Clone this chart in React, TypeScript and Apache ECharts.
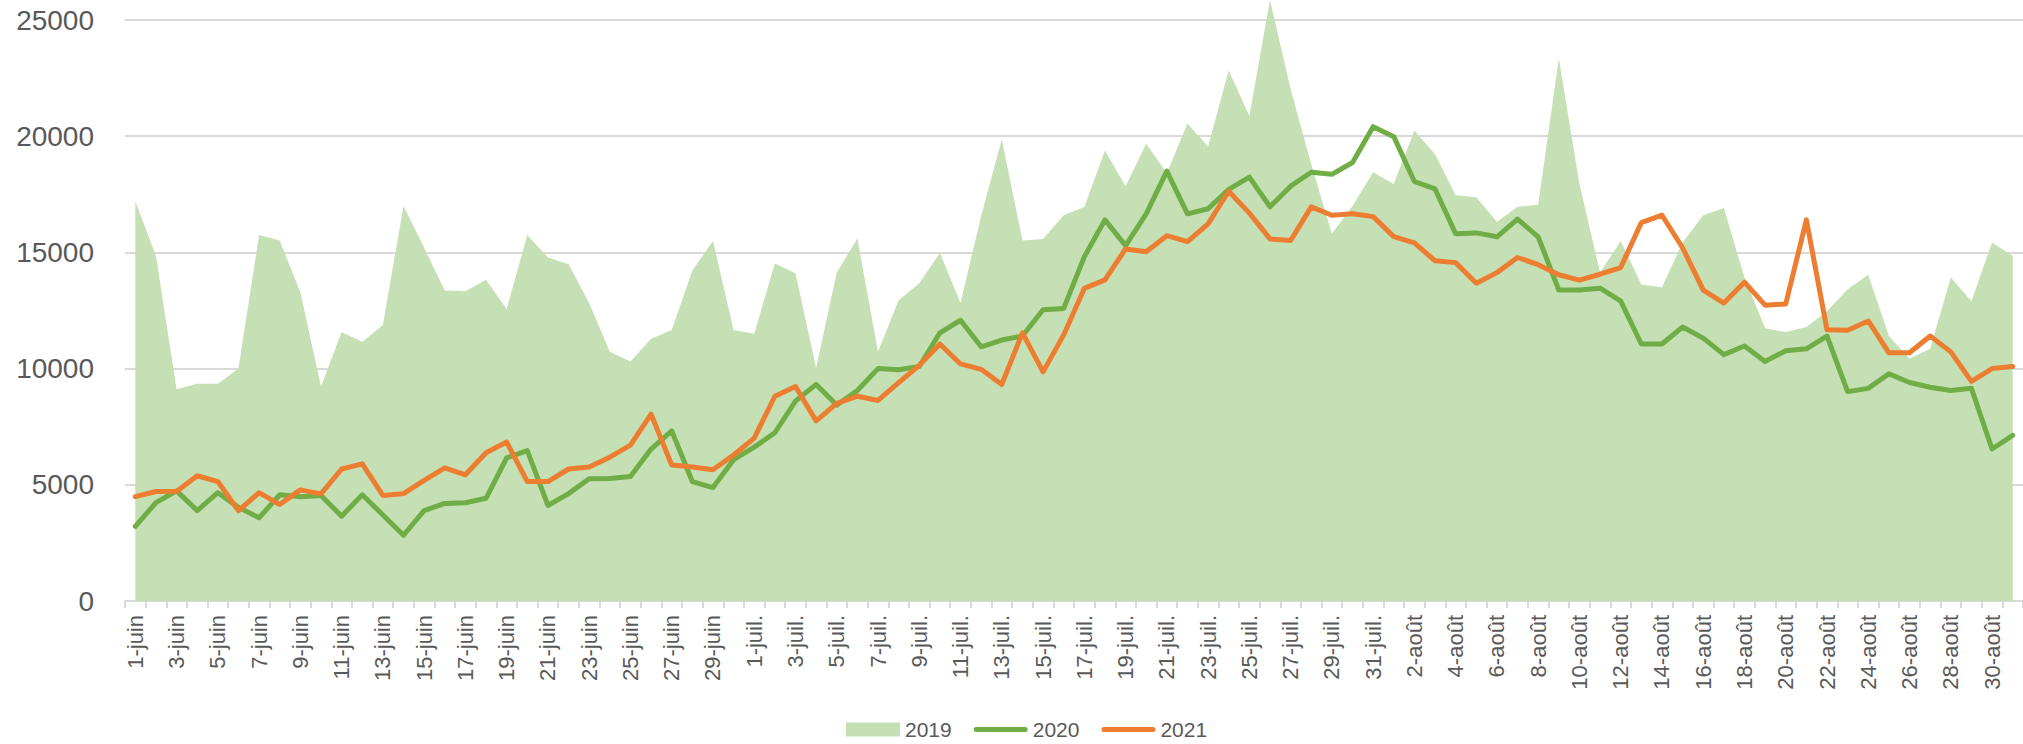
import React, { useEffect, useRef } from "react";
import * as echarts from "echarts";

const categories: string[] = [
  "1-juin","2-juin","3-juin","4-juin","5-juin","6-juin","7-juin","8-juin","9-juin","10-juin",
  "11-juin","12-juin","13-juin","14-juin","15-juin","16-juin","17-juin","18-juin","19-juin","20-juin",
  "21-juin","22-juin","23-juin","24-juin","25-juin","26-juin","27-juin","28-juin","29-juin","30-juin",
  "1-juil.","2-juil.","3-juil.","4-juil.","5-juil.","6-juil.","7-juil.","8-juil.","9-juil.","10-juil.",
  "11-juil.","12-juil.","13-juil.","14-juil.","15-juil.","16-juil.","17-juil.","18-juil.","19-juil.","20-juil.",
  "21-juil.","22-juil.","23-juil.","24-juil.","25-juil.","26-juil.","27-juil.","28-juil.","29-juil.","30-juil.",
  "31-juil.","1-août","2-août","3-août","4-août","5-août","6-août","7-août","8-août","9-août",
  "10-août","11-août","12-août","13-août","14-août","15-août","16-août","17-août","18-août","19-août",
  "20-août","21-août","22-août","23-août","24-août","25-août","26-août","27-août","28-août","29-août",
  "30-août","31-août"
];

const values2019: number[] = [
  17200,14860,9110,9350,9350,10000,15750,15510,13280,9230,
  11570,11160,11880,17000,15200,13360,13330,13820,12560,15750,
  14780,14490,12820,10730,10310,11280,11660,14220,15490,11660,
  11500,14520,14100,10030,14130,15600,10720,12940,13670,14980,
  12820,16570,19860,15510,15580,16600,16950,19390,17850,19680,
  18410,20550,19560,22830,20870,25860,22030,18790,15800,17000,
  18450,17940,20240,19220,17460,17370,16310,16960,17050,23340,
  17940,14130,15490,13620,13500,15430,16600,16910,13920,11740,
  11570,11790,12470,13410,14040,11400,10430,10850,13920,12900,
  15430,14860
];

const values2020: number[] = [
  3210,4230,4740,3890,4660,4030,3580,4570,4490,4540,
  3650,4570,3700,2830,3890,4200,4230,4420,6160,6470,
  4110,4620,5260,5270,5360,6540,7320,5140,4880,6080,
  6620,7240,8600,9320,8430,9060,10000,9950,10090,11540,
  12080,10940,11230,11400,12530,12590,14810,16400,15290,16660,
  18500,16660,16880,17710,18240,16960,17850,18450,18360,18870,
  20410,19980,18050,17730,15800,15840,15670,16430,15670,13380,
  13380,13460,12900,11060,11060,11790,11310,10600,10970,10310,
  10770,10850,11400,9010,9150,9780,9400,9200,9060,9150,
  6540,7130
];

const values2021: number[] = [
  4490,4710,4710,5390,5140,3890,4660,4150,4780,4610,
  5680,5900,4540,4620,5190,5730,5430,6380,6840,5140,
  5140,5680,5770,6190,6710,8040,5850,5770,5650,6280,
  7010,8810,9230,7750,8500,8810,8630,9400,10140,11060,
  10200,9970,9320,11540,9860,11450,13450,13820,15150,15030,
  15720,15460,16230,17630,16690,15580,15510,16960,16600,16660,
  16540,15680,15410,14640,14560,13670,14130,14780,14470,14040,
  13810,14060,14350,16280,16600,15200,13380,12820,13720,12730,
  12780,16400,11670,11650,12050,10680,10680,11400,10720,9450,
  10000,10090
];

const seriesNames: string[] = ["2019", "2020", "2021"];
const yTicks: number[] = [0, 5000, 10000, 15000, 20000, 25000];

const FONT = '"Liberation Sans", Arial, sans-serif';
const TEXT = "#595959";
const LINE_ICON = "path://M2.5,0 L51.5,0 A2.5,2.5 0 0 1 51.5,5 L2.5,5 A2.5,2.5 0 0 1 2.5,0 Z";

export default function App() {
  const ref = useRef<HTMLDivElement>(null);

  useEffect(() => {
    if (!ref.current) return;
    const chart = echarts.init(ref.current, undefined, { renderer: "svg" });
    chart.setOption({
      animation: false,
      backgroundColor: "#ffffff",
      textStyle: { fontFamily: FONT },
      grid: { left: 125, right: 0, top: 20, bottom: 143, containLabel: false },
      legend: {
        data: [
          { name: seriesNames[0], icon: "rect", itemStyle: { color: "#c5e0b4" } },
          { name: seriesNames[1], icon: LINE_ICON, itemStyle: { color: "#70ad47" } },
          { name: seriesNames[2], icon: LINE_ICON, itemStyle: { color: "#ed7d31" } },
        ],
        left: 846,
        top: 719,
        padding: 0,
        itemWidth: 54,
        itemHeight: 14,
        itemGap: 22,
        textStyle: { fontSize: 21, color: TEXT, fontFamily: FONT, padding: [0, 0, 0, 0] },
      },
      xAxis: {
        type: "category",
        data: categories,
        boundaryGap: true,
        axisLine: { show: true, lineStyle: { color: "#d9d9d9", width: 2 } },
        axisTick: { show: true, interval: 0, length: 7, lineStyle: { color: "#d9d9d9", width: 2 } },
        axisLabel: {
          interval: 1,
          rotate: 90,
          margin: 14,
          fontSize: 22,
          color: TEXT,
          fontFamily: FONT,
        },
        splitLine: { show: false },
      },
      yAxis: {
        type: "value",
        min: yTicks[0],
        max: yTicks[yTicks.length - 1],
        interval: yTicks[1] - yTicks[0],
        axisLine: { show: false },
        axisTick: { show: false },
        axisLabel: {
          margin: 31,
          fontSize: 28,
          color: TEXT,
          fontFamily: FONT,
          formatter: (v: number) => String(v),
        },
        splitLine: { show: true, lineStyle: { color: "#d9d9d9", width: 2 } },
      },
      series: [
        {
          name: seriesNames[0],
          type: "line",
          data: values2019,
          symbol: "none",
          showSymbol: false,
          clip: false,
          color: "#c5e0b4",
          lineStyle: { width: 0, color: "#c5e0b4" },
          areaStyle: { color: "#c5e0b4", opacity: 1 },
          z: 1,
        },
        {
          name: seriesNames[1],
          type: "line",
          data: values2020,
          symbol: "none",
          showSymbol: false,
          color: "#70ad47",
          lineStyle: { width: 5, color: "#70ad47", cap: "round", join: "round" },
          z: 2,
        },
        {
          name: seriesNames[2],
          type: "line",
          data: values2021,
          symbol: "none",
          showSymbol: false,
          color: "#ed7d31",
          lineStyle: { width: 5, color: "#ed7d31", cap: "round", join: "round" },
          z: 3,
        },
      ],
    });
    return () => chart.dispose();
  }, []);

  return (
    <div
      ref={ref}
      style={{ position: "fixed", left: 0, top: 0, width: 2023, height: 744, background: "#fff" }}
    />
  );
}
